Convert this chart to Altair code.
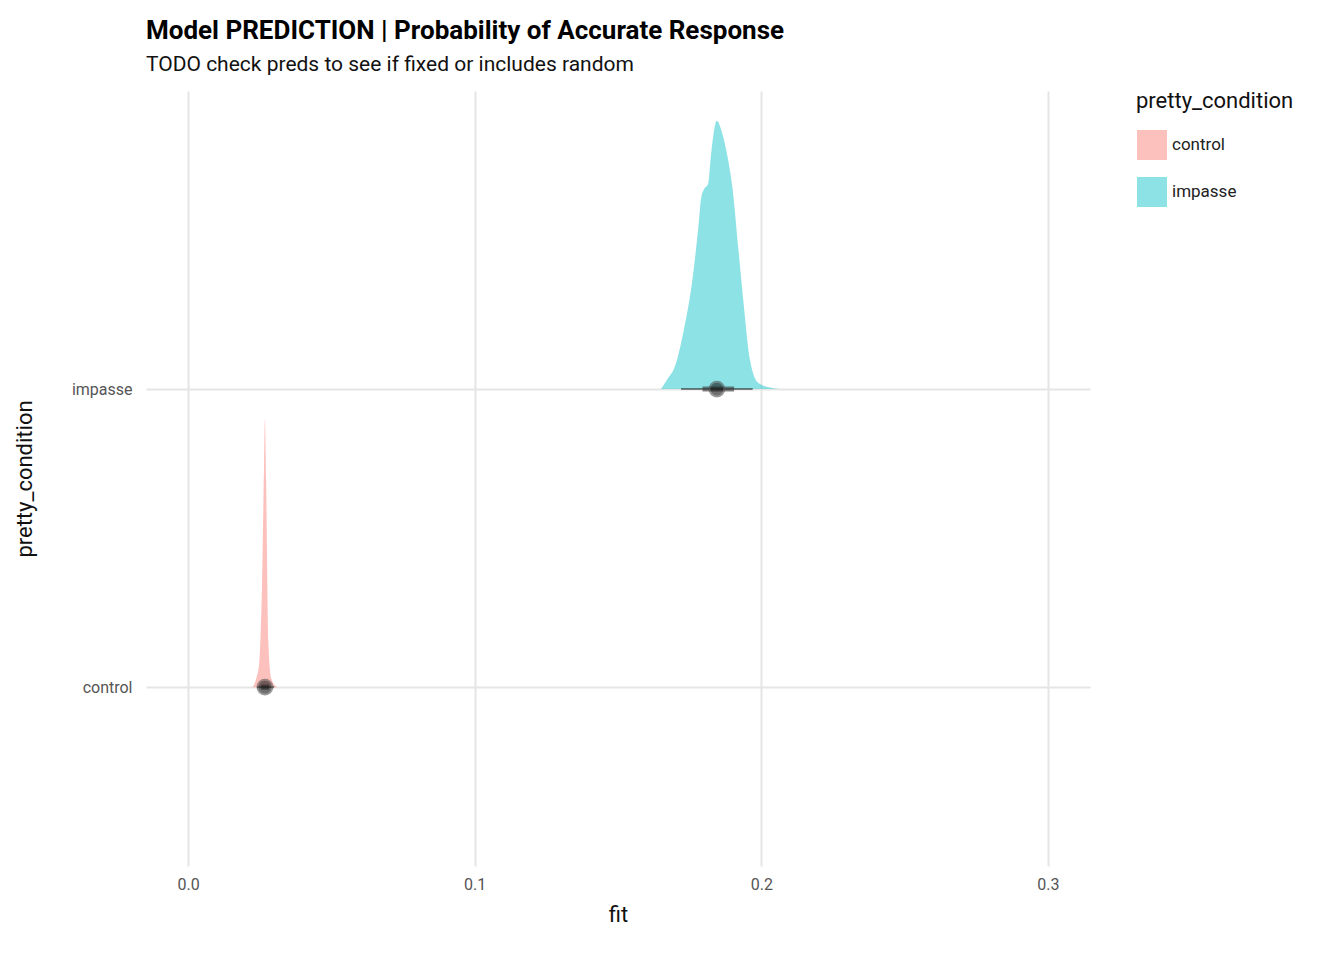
import altair as alt
import pandas as pd

FONT = "Liberation Sans Narrow, Roboto"

# density outlines (fit value, relative height in category units)
imp_x = [0.165, 0.167, 0.170, 0.173, 0.176, 0.178, 0.179, 0.180, 0.1815, 0.1825, 0.1845,
         0.186, 0.188, 0.190, 0.192, 0.194, 0.196, 0.199, 0.203, 0.2065]
imp_h = [0.0, 0.03, 0.08, 0.20, 0.37, 0.54, 0.64, 0.67, 0.69, 0.79, 0.90,
         0.87, 0.79, 0.67, 0.47, 0.27, 0.10, 0.02, 0.005, 0.0]
ctl_x = [0.0225, 0.0238, 0.0248, 0.0258, 0.0265, 0.0268, 0.0272, 0.0280, 0.0290, 0.0310]
ctl_h = [0.0, 0.03, 0.08, 0.35, 0.75, 0.90, 0.70, 0.15, 0.03, 0.0]

conditions = ["control", "impasse"]
point_fit = [0.0268, 0.1845]
thick_lo = [0.0255, 0.1795]
thick_hi = [0.0282, 0.1905]
thin_lo = [0.0240, 0.1720]
thin_hi = [0.0300, 0.1970]

dens = pd.concat([
    pd.DataFrame({"fit": ctl_x, "top": [1 + h for h in ctl_h], "base": 1, "pretty_condition": "control"}),
    pd.DataFrame({"fit": imp_x, "top": [2 + h for h in imp_h], "base": 2, "pretty_condition": "impasse"}),
])
pts = pd.DataFrame({"pretty_condition": conditions, "pos": [1, 2], "fit": point_fit,
                    "lo1": thick_lo, "hi1": thick_hi, "lo2": thin_lo, "hi2": thin_hi})

xs = alt.Scale(domain=[-0.0147, 0.3147], nice=False, zero=False)
ys = alt.Scale(domain=[0.4, 3.0], nice=False, zero=False)

area = alt.Chart(dens).mark_area(opacity=0.45, interpolate="monotone").encode(
    x=alt.X("fit:Q", scale=xs, title="fit",
            axis=alt.Axis(values=[0, 0.1, 0.2, 0.3], format=".1f", grid=True, gridColor="#e5e5e5",
                          gridWidth=2, domain=False, ticks=False, labelFontSize=16,
                          labelColor="#555", titleFontSize=22, titleFontWeight="normal",
                          titleColor="#111", labelPadding=10, titlePadding=12)),
    y=alt.Y("top:Q", scale=ys, title="pretty_condition",
            axis=alt.Axis(values=[1, 2], labelExpr="datum.value == 1 ? 'control' : 'impasse'",
                          grid=True, gridColor="#e5e5e5", gridWidth=2, domain=False, ticks=False,
                          labelFontSize=16, labelColor="#555", titleFontSize=22,
                          titleFontWeight="normal", titleColor="#111", labelPadding=14,
                          titlePadding=35)),
    y2="base:Q",
    color=alt.Color("pretty_condition:N",
                    scale=alt.Scale(domain=conditions, range=["#F8766D", "#00BFC4"]),
                    legend=alt.Legend(title="pretty_condition", symbolType="square",
                                      symbolSize=900, symbolOpacity=0.45, titleFontSize=22,
                                      titleFontWeight="normal", labelFontSize=17,
                                      titleColor="#111", labelColor="#222", rowPadding=16,
                                      titlePadding=16, offset=46, orient="right")),
)

thin = alt.Chart(pts).mark_rule(color="#333", opacity=0.6, strokeWidth=2).encode(
    x="lo2:Q", x2="hi2:Q", y="pos:Q")
thick = alt.Chart(pts).mark_rule(color="#333", opacity=0.6, strokeWidth=5).encode(
    x="lo1:Q", x2="hi1:Q", y="pos:Q")
dots = alt.Chart(pts).mark_circle(color="#111", opacity=0.6, size=220, stroke="#555",
                                  strokeWidth=2).encode(x="fit:Q", y="pos:Q")

chart = alt.layer(area, thin, thick, dots).properties(
    width=944, height=775,
    padding={"left": 5, "top": 10, "right": 5, "bottom": 5},
    title=alt.Title("Model PREDICTION | Probability of Accurate Response",
                    subtitle="TODO check preds to see if fixed or includes random",
                    anchor="start", frame="group", fontSize=26, fontWeight="bold", color="#000",
                    subtitleFontSize=21, subtitleColor="#111", subtitlePadding=10, offset=16),
).configure(font=FONT).configure_view(stroke=None, strokeWidth=0)

chart.save("out.html", embed_options={"renderer": "svg", "actions": False})
